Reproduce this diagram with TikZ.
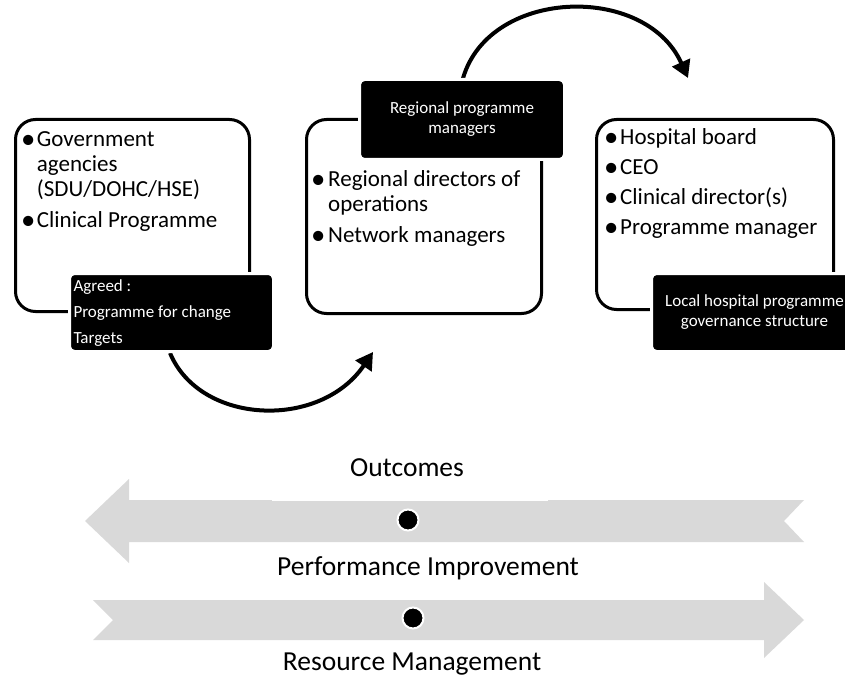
\documentclass[tikz,border=0pt]{standalone}
\usepackage{fontspec}
\usepackage{graphicx}
\setmainfont{Carlito}
\usetikzlibrary{arrows.meta}
\definecolor{bandgray}{HTML}{D9D9D9}
\newcommand{\bigbul}{\makebox[0pt][l]{\hspace*{-3pt}\raisebox{-0.08em}{\scalebox{1.25}{•}}}}
\begin{document}
\begin{tikzpicture}[x=1pt,y=-1pt,
  panel/.style={draw=black,line width=3pt,rounded corners=20pt,fill=white,inner sep=0pt},
  tag/.style={fill=black,draw=white,line width=3pt,rounded corners=5pt,text=white,inner sep=0pt,
    font=\fontsize{17}{20}\selectfont},
  flow/.style={line width=4pt,-{Triangle[length=17pt,width=19pt]}},
  band/.style={fill=bandgray,draw=none},
  dot/.style={circle,fill=black,draw=white,line width=2pt,minimum size=21pt,inner sep=0pt},
  bullets/.style={anchor=base west,inner sep=0pt,font=\fontsize{23}{25}\selectfont},
  caption/.style={inner sep=0pt,font=\fontsize{27.5}{30}\selectfont}]
\useasboundingbox (0,0) rectangle (845,679);
% panels
\node[panel,anchor=north west,minimum width=234pt,minimum height=192pt] (p1) at (14,118) {};
\node[panel,anchor=north west,minimum width=235pt,minimum height=194pt] (p2) at (305,118) {};
\node[panel,anchor=north west,minimum width=237pt,minimum height=190pt] (p3) at (595,118) {};
% bullet texts
\node[bullets] (l1) at (24,146.7) {\begin{tabular}[t]{@{}p{12.7pt}@{}l@{}}
\bigbul&Government\\ &agencies\\ &(SDU/DOHC/HSE)\\[6pt] \bigbul&Clinical Programme\end{tabular}};
\node[bullets] (l2) at (314,186.7) {\begin{tabular}[t]{@{}p{14pt}@{}l@{}}
\bigbul&Regional directors of\\ &operations\\[6pt] \bigbul&Network managers\end{tabular}};
\node[bullets] (l3) at (607,145) {\begin{tabular}[t]{@{}p{13pt}@{}l@{}}
\bigbul&Hospital board\\[5pt] \bigbul&CEO\\[5pt] \bigbul&Clinical director(s)\\[5pt] \bigbul&Programme manager\end{tabular}};
% curved connectors
\coordinate (c1s) at (170,353);
\coordinate (c1e) at (373,352);
\coordinate (c2s) at (462,82);
\coordinate (c2e) at (688,78);
\draw[flow] (c1s) .. controls (200,425) and (320,430) .. (c1e);
\draw[flow] (c2s) .. controls (485,-12) and (645,-18) .. (c2e);
% black tags
\node[tag,anchor=north west,minimum width=204pt,minimum height=78pt] (t1) at (68,272)
  {\fontsize{17}{26}\selectfont\begin{tabular}{@{}p{196pt}@{}}Agreed :\\ Programme for change\\ Targets\end{tabular}};
\node[tag,anchor=north west,minimum width=205pt,minimum height=80pt,align=center] (t2) at (358,78)
  {Regional programme\\ managers};
\node[tag,anchor=north west,minimum width=206pt,minimum height=78pt,align=center] (t3) at (650,272)
  {Local hospital programme\\ governance structure};
% bottom bands
\path[band] (85,521) -- (129,479) -- (129,500) -- (804,500) -- (784,521) -- (804,542)
  -- (129,542) -- (129,563) -- cycle;
\draw[white,line width=1.5pt] (272,500.5) -- (548,500.5);
\path[band] (93,600) -- (764,600) -- (764,582) -- (804,620) -- (764,658) -- (764,640)
  -- (93,640) -- (113,620) -- cycle;
\node[dot] (d1) at (408,520) {};
\node[dot] (d2) at (413,618) {};
\node[caption] (o) at (407,468) {Outcomes};
\node[caption] (pi) at (428,568) {Performance Improvement};
\node[caption] (rm) at (412,664) {Resource Management};
\end{tikzpicture}
\end{document}
